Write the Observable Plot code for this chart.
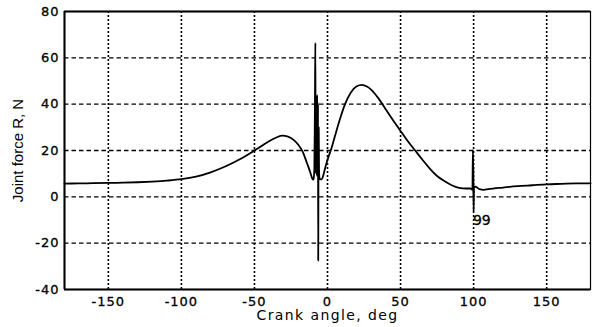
<!DOCTYPE html>
<html>
<head>
<meta charset="utf-8">
<script src="https://cdn.jsdelivr.net/npm/d3@7"></script>
<script src="https://cdn.jsdelivr.net/npm/@observablehq/plot@0.6"></script>
<style>
  html, body { margin: 0; padding: 0; background: #fff; }
  #chart svg { display: block; }
</style>
</head>
<body>
<div id="chart"></div>
<script>
// Crank angle (deg) and joint force R (N)
const angle = [
  -180, -170, -160, -150, -140, -130, -120, -110, -100, -90, -80, -70, -60, -50, -45, -40, -35, -31, -27, -23, -20, -17, -14, -12, -10.6, -10,
  -9.6, -9.0, -8.6, -8.3, -8.15, -8.0, -7.85, -7.7, -7.55, -7.4, -7.25, -7.1, -6.95, -6.8, -6.65, -6.5, -6.35, -6.2, -6.0, -5.8, -5.5,
  -5, -4, -3, -2, 0, 2.5, 5, 8, 12, 16, 20, 23.5, 27, 30, 35, 40, 45, 50, 55, 60, 65, 70, 75, 80, 85, 90, 95, 98,
  99.2, 99.5, 99.8, 100, 100.3, 102, 104, 107, 110, 120, 130, 140, 150, 160, 170, 180
];
const force = [
  5.7, 5.8, 5.9, 6.0, 6.1, 6.3, 6.6, 7.0, 7.6, 8.7, 10.6, 13.1, 16.2, 20.0, 22.0, 24.0, 25.6, 26.4, 26.0, 24.5, 22.5, 19.5, 14.5, 11.0, 8.2, 7.4,
  7.6, 12, 40, 66.5, 18, 44, 10, 43, 12, 42, 9, 44, 11, 41, 12, 40, -27.5, 10, 30, 12, 8,
  7.6, 7.5, 9, 11.5, 16, 20.5, 26, 32.5, 40, 45, 47.7, 48.3, 47.6, 46.2, 42.4, 37.6, 32.9, 28.4, 24, 20, 16, 12.2, 9, 6.8, 5, 3.9, 3.6, 3.6,
  3.0, 20, 10, -6.4, 4.5, 4.2, 3.3, 3.0, 3.3, 4.0, 4.6, 5.0, 5.4, 5.6, 5.8, 5.8
];
const xTicks = [-150, -100, -50, 0, 50, 100, 150];
const yTicks = [-40, -20, 0, 20, 40, 60, 80];
const xGrid = [-150, -100, -50, 0, 50, 100, 150];
const yGrid = [-20, 0, 20, 40, 60];
const noteX = [99.5];
const noteY = [-10.3];
const noteText = ["99"];
const xTitle = ["Crank angle, deg"];
const yTitle = ["Joint force R, N"];

const data = angle.map((a, i) => ({angle: a, force: force[i]}));
const notes = noteX.map((x, i) => ({x, y: noteY[i], t: noteText[i]}));

const tickFont = "DejaVu Sans, Verdana, sans-serif";
const fmt = d => String(d);

const chart = Plot.plot({
  width: 592,
  height: 327,
  marginLeft: 64,
  marginRight: 2,
  marginTop: 11,
  marginBottom: 38,
  style: {fontFamily: tickFont, fontSize: "13px", color: "#000", background: "#fff"},
  x: {domain: [-180, 180]},
  y: {domain: [-40, 80]},
  marks: [
    Plot.ruleY(yGrid, {stroke: "#000", strokeWidth: 1.4, strokeDasharray: "4.5,3"}),
    Plot.ruleX(xGrid, {stroke: "#000", strokeWidth: 1.6, strokeDasharray: "2,2"}),
    Plot.frame({stroke: "#000", strokeWidth: 1.2}),
    Plot.ruleX([-180], {stroke: "#000", strokeWidth: 2}),
    Plot.ruleY([-40], {stroke: "#000", strokeWidth: 2}),
    Plot.ruleY([80], {stroke: "#000", strokeWidth: 1.8}),
    Plot.line(data, {x: "angle", y: "force", stroke: "#000", strokeWidth: 1.8, strokeLinejoin: "round", curve: "monotone-x"}),
    Plot.text(notes, {x: "x", y: "y", text: "t", textAnchor: "start", fontSize: 14, fill: "#000", stroke: "#000", strokeWidth: 0.3, style: "letter-spacing:1px"}),
    Plot.axisX(xTicks, {tickSize: 0, tickPadding: 7, label: null, fontSize: 13, fill: "#000", tickFormat: fmt}),
    Plot.axisY(yTicks, {tickSize: 0, tickPadding: 5, label: null, fontSize: 13, fill: "#000", tickFormat: fmt}),
    Plot.text(xTitle, {frameAnchor: "bottom", dy: 26.5, textAnchor: "middle", lineAnchor: "middle", fontSize: 14, fill: "#000", fontFamily: tickFont}),
    Plot.text(yTitle, {frameAnchor: "left", dx: -46, rotate: -90, textAnchor: "middle", lineAnchor: "middle", fontSize: 15, fill: "#000", fontFamily: "Liberation Sans, Arial, sans-serif"})
  ]
});
chart.querySelectorAll("[aria-label='x-axis tick label'] text, [aria-label='y-axis tick label'] text").forEach(t => {
  t.setAttribute("letter-spacing", "1");
  t.setAttribute("stroke", "#000");
  t.setAttribute("stroke-width", "0.3");
});
chart.querySelectorAll("text").forEach(t => { if (t.textContent === xTitle[0]) t.setAttribute("letter-spacing", "1.4"); });
document.getElementById("chart").append(chart);
</script>
</body>
</html>
